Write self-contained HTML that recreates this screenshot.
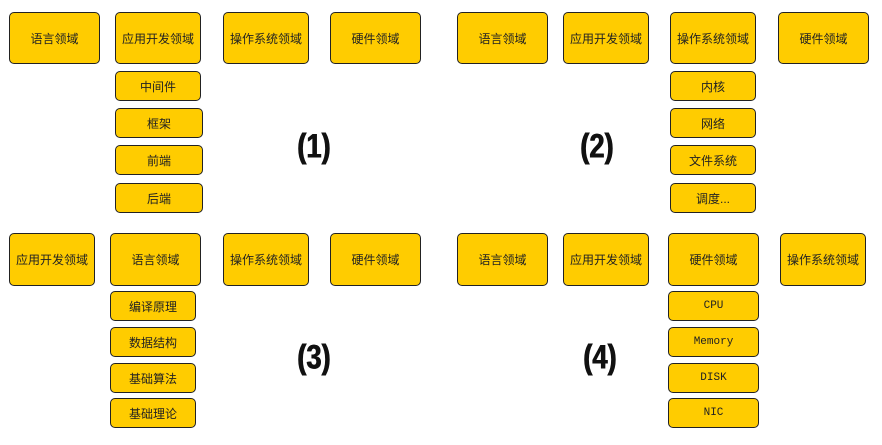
<!DOCTYPE html>
<html><head><meta charset="utf-8"><style>
body{margin:0;width:882px;height:445px;background:#fff;position:relative;overflow:hidden;font-family:"Liberation Sans","Noto Sans CJK SC",sans-serif}
.b{position:absolute;box-sizing:border-box;background:#ffcc00;border:1.3px solid #222;border-radius:5px;display:flex;align-items:center;justify-content:center;font-size:12px;color:#222}
.m{font-family:"Liberation Mono","Noto Sans CJK SC",monospace;font-size:11px}
.l{position:absolute;font-family:"Liberation Sans",sans-serif;font-weight:bold;font-size:34px;color:#111;transform:translate(-50%,-50%) scaleX(0.8);text-shadow:0.6px 0 #111,-0.6px 0 #111}
</style></head><body>
<div id="root"></div>
<script>
const boxes=[
[9,12,91,52,"语言领域"],[115,12,86,52,"应用开发领域"],[223,12,86,52,"操作系统领域"],[330,12,91,52,"硬件领域"],
[115,71,86,30,"中间件"],[115,108,88,30,"框架"],[115,145,88,30,"前端"],[115,183,88,30,"后端"],
[457,12,91,52,"语言领域"],[563,12,86,52,"应用开发领域"],[670,12,86,52,"操作系统领域"],[778,12,91,52,"硬件领域"],
[670,71,86,30,"内核"],[670,108,86,30,"网络"],[670,145,86,30,"文件系统"],[670,183,86,30,"调度..."],
[9,233,86,53,"应用开发领域"],[110,233,91,53,"语言领域"],[223,233,86,53,"操作系统领域"],[330,233,91,53,"硬件领域"],
[110,291,86,30,"编译原理"],[110,327,86,30,"数据结构"],[110,363,86,30,"基础算法"],[110,398,86,30,"基础理论"],
[457,233,91,53,"语言领域"],[563,233,86,53,"应用开发领域"],[668,233,91,53,"硬件领域"],[780,233,86,53,"操作系统领域"],
[668,291,91,30,"CPU"],[668,327,91,30,"Memory"],[668,363,91,30,"DISK"],[668,398,91,30,"NIC"]
];
const labels=[[314,147,"(1)"],[597,147,"(2)"],[314,358,"(3)"],[600,358,"(4)"]];
const root=document.getElementById('root');
boxes.forEach(([x,y,w,h,t])=>{
const d=document.createElement('div');
d.className='b'+(/^[A-Za-z]/.test(t)?' m':'');
d.style.cssText=`left:${x}px;top:${y}px;width:${w}px;height:${h}px`;
d.textContent=t;


root.appendChild(d);
});
labels.forEach(([x,y,t])=>{
const d=document.createElement('div');
d.className='l';d.style.left=x+'px';d.style.top=y+'px';d.textContent=t;


root.appendChild(d);
});
</script>
</body></html>
